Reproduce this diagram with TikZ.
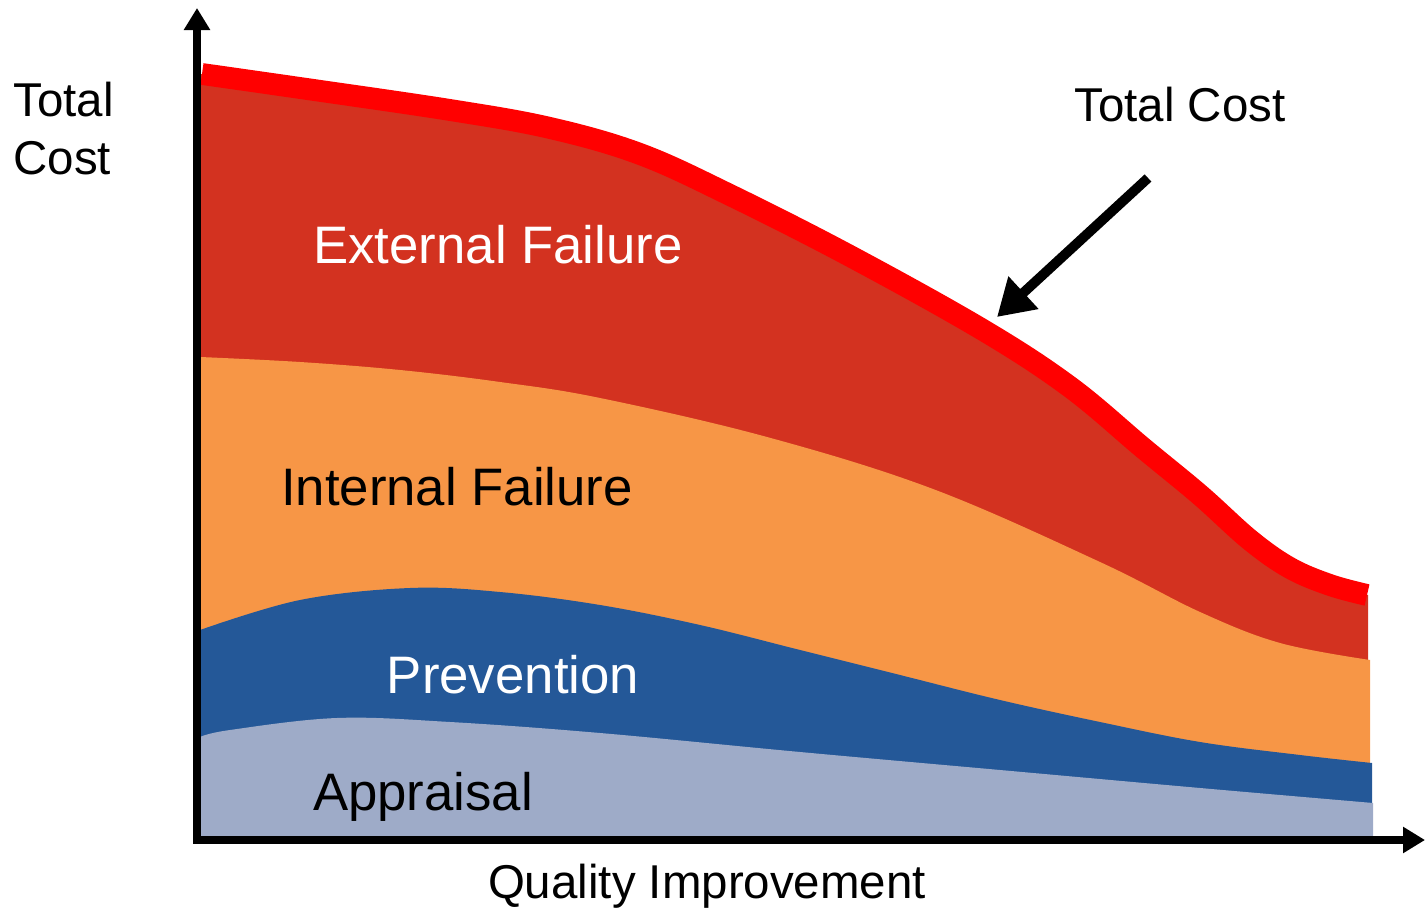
\documentclass[tikz,border=0pt]{standalone}
\usepackage{fontspec}
\setmainfont{Liberation Sans}
\usetikzlibrary{arrows.meta, positioning}

\definecolor{extred}{RGB}{211,50,32}
\definecolor{totred}{RGB}{255,0,0}
\definecolor{intorange}{RGB}{247,150,70}
\definecolor{prevblue}{RGB}{36,88,152}
\definecolor{apprgrey}{RGB}{158,171,200}

\begin{document}
\begin{tikzpicture}[x=0.01cm, y=-0.01cm]
    % Styles
    \tikzstyle{axis} = [line width=2pt, -{Triangle[length=0.22cm, width=0.25cm]}]
    \tikzstyle{pointer} = [line width=2.8pt, -{Triangle[length=0.36cm, width=0.42cm]}]
    \tikzstyle{biglabel} = [font=\fontsize{15}{18}\selectfont]
    \tikzstyle{axislabel} = [font=\fontsize{13.5}{16.5}\selectfont]

    \useasboundingbox (0,0) rectangle (1425,910);

    % Stacked areas
    \fill[extred] (200,838) -- plot[smooth, tension=0.6] coordinates {(200,74) (300,88) (450,110) (550,128) (640,154) (730,195) (850,256) (983,330) (1070,387) (1143,448) (1200,495) (1250,540) (1290,568) (1330,585) (1368,595)} -- (1368,838) -- cycle;
    \fill[intorange] (200,838) -- plot[smooth, tension=0.6] coordinates {(200,357) (300,362) (400,370) (500,382) (600,398) (767,437) (933,489) (1100,562) (1200,612) (1280,643) (1370,660)} -- (1370,838) -- cycle;
    \fill[prevblue] (200,838) -- plot[smooth, tension=0.6] coordinates {(200,630) (300,600) (410,588) (500,592) (600,605) (700,625) (800,650) (900,675) (1000,700) (1100,722) (1200,742) (1300,755) (1372,763)} -- (1372,838) -- cycle;
    \fill[apprgrey] (200,838) -- plot[smooth, tension=0.6] coordinates {(200,737) (230,730) (337,718) (450,722) (600,733) (800,752) (1000,770) (1200,788) (1373,803)} -- (1373,838) -- cycle;

    % Total cost line
    \draw[totred, line width=6.2pt] plot[smooth, tension=0.6] coordinates {(202,74) (300,88) (450,110) (550,128) (640,154) (730,195) (850,256) (983,330) (1070,387) (1143,448) (1200,495) (1250,540) (1290,568) (1330,585) (1367,595)};

    % Axes
    \coordinate (origin) at (197,840);
    \coordinate (ytop) at (197,8);
    \coordinate (xend) at (1425,840);
    \draw[axis] ([xshift=-0.04cm]origin) -- (xend);
    \draw[axis] ([yshift=-0.035cm]origin) -- (ytop);

    % Labels
    \node[axislabel, align=left, anchor=north west] (ylabel) at (1,70) {Total\\Cost};
    \node[axislabel] (xlabel) at (707,886) {Quality Improvement};
    \node[axislabel] (totlabel) at (1180,105) {Total Cost};
    \node[biglabel, white] (ext) at (498,245) {External Failure};
    \node[biglabel] (int) at (457,487) {Internal Failure};
    \node[biglabel, white] (prev) at (513,675) {Prevention};
    \node[biglabel] (appr) at (423,797) {Appraisal};

    % Pointer to the total cost line
    \coordinate (tctail) at (1148,178);
    \coordinate (tctip) at (997,317);
    \draw[pointer] (tctail) -- (tctip);
\end{tikzpicture}
\end{document}
